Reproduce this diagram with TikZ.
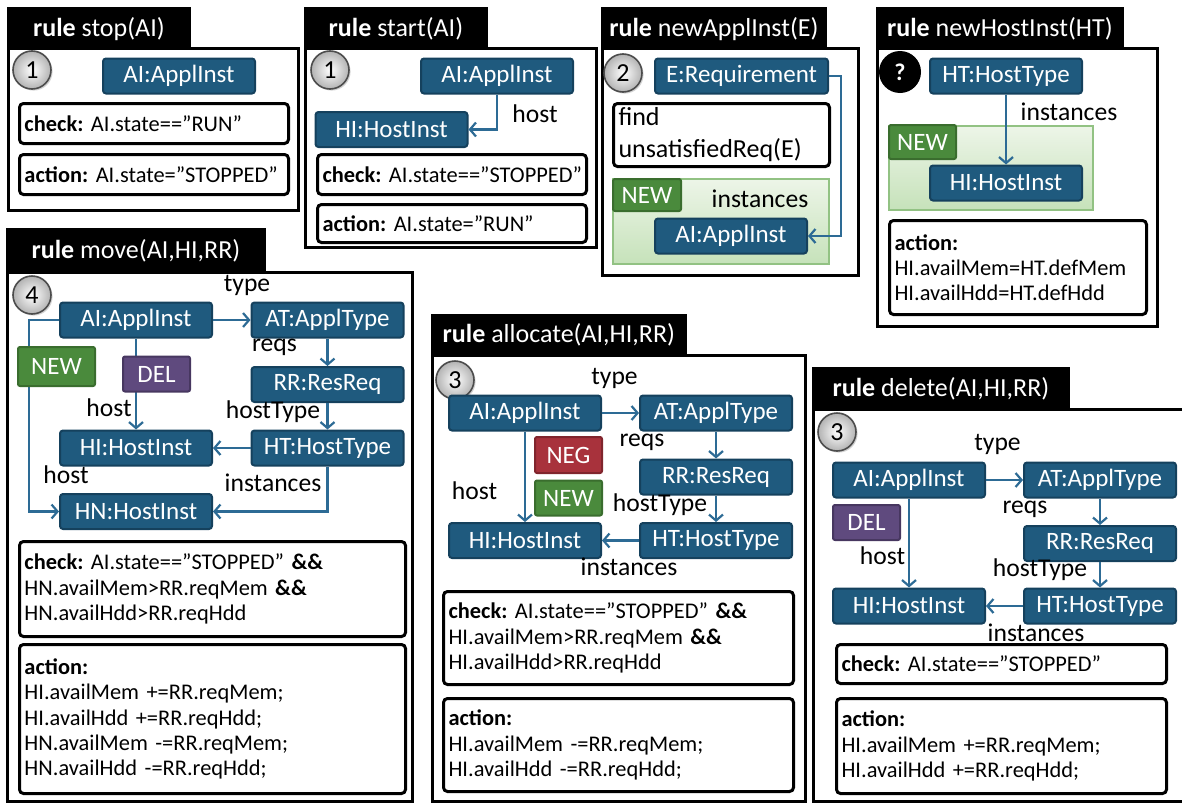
\documentclass[tikz,border=0pt]{standalone}
\usepackage{fontspec}
\setmainfont{Carlito}
\usetikzlibrary{arrows.meta,shadows}

\definecolor{objfill}{HTML}{1F5A7E}
\definecolor{objdraw}{HTML}{15415D}
\definecolor{linkcol}{HTML}{2D6B95}
\definecolor{newfill}{HTML}{4A8A3C}
\definecolor{newdraw}{HTML}{3A6D2E}
\definecolor{delfill}{HTML}{5F4A7E}
\definecolor{deldraw}{HTML}{473760}
\definecolor{negfill}{HTML}{A8323C}
\definecolor{negdraw}{HTML}{80252D}
\definecolor{areatop}{HTML}{EDF5E8}
\definecolor{areabot}{HTML}{C6E2BA}
\definecolor{areadraw}{HTML}{92C283}

\tikzset{
    ruleframe/.style={draw, line width=1.5pt},
    ruletab/.style={fill=black, text=white, anchor=north west, inner sep=0pt,
        font=\fontsize{13}{15}\selectfont},
    stepnum/.style={circle, draw=black!70, line width=0.8pt, inner color=white,
        outer color=black!30, minimum size=19pt, inner sep=0pt,
        font=\fontsize{13}{15}\selectfont,
        drop shadow={shadow xshift=0.8pt, shadow yshift=-0.8pt, opacity=0.35}},
    obj/.style={draw=objdraw, fill=objfill, text=white, line width=1pt,
        rounded corners=1.5pt, minimum width=76pt, minimum height=17.5pt,
        inner sep=0pt, font=\fontsize{12.5}{14}\selectfont},
    tagbox/.style={line width=1pt, rounded corners=1pt, text=white,
        minimum width=33.5pt, minimum height=17.5pt, inner sep=0pt,
        font=\fontsize{12.5}{14}\selectfont},
    newtag/.style={tagbox, draw=newdraw, fill=newfill},
    deltag/.style={tagbox, draw=deldraw, fill=delfill},
    negtag/.style={tagbox, draw=negdraw, fill=negfill},
    newarea/.style={draw=areadraw, top color=areatop, bottom color=areabot,
        line width=0.8pt, anchor=north west, inner sep=0pt},
    cond/.style 2 args={draw, line width=1.5pt, rounded corners=2pt, fill=white,
        anchor=north west, inner xsep=2.5pt, inner ysep=2pt, text width=#1,
        minimum height=#2, align=left, font=\fontsize{11.2}{12.6}\selectfont},
    lbl/.style={inner sep=0pt, font=\fontsize{12.8}{15}\selectfont},
    link/.style={draw=linkcol, line width=1.1pt, ->},
    >={Straight Barb[length=3pt, width=7pt]}
}

\begin{document}
\begin{tikzpicture}[x=0.5pt, y=-0.5pt]
    \useasboundingbox (0,0) rectangle (1182,803);

    %% rule stop, top left
    \draw[ruleframe] (8,48) rectangle (298,210);
    \node[ruletab, minimum width=92pt, minimum height=21.5pt] (stopTab) at (6.5,7)
        {\textbf{rule} stop(AI)};
    \node[stepnum] (stopNum) at (32,70) {1};
    \node[obj] (stopAI) at (179,76) {AI:ApplInst};
    \node[cond={129.5pt}{20pt}] (stopCheck) at (18,102)
        {\textbf{check:}~AI.state==”RUN”};
    \node[cond={129.5pt}{20pt}] (stopAction) at (18,153)
        {\textbf{action:}~AI.state=”STOPPED”};

    %% rule start
    \draw[ruleframe] (305,48) rectangle (596,247);
    \node[ruletab, minimum width=92pt, minimum height=21.5pt] (startTab) at (303.5,7)
        {\textbf{rule} start(AI)};
    \node[stepnum] (startNum) at (330,70) {1};
    \node[obj] (startAI) at (497,76) {AI:ApplInst};
    \node[obj] (startHI) at (391.5,129.5) {HI:HostInst};
    \draw[link] (startAI) |- (startHI);
    \node[lbl] (startHost) at (535,114) {host};
    \node[cond={129.5pt}{20pt}] (startCheck) at (316,153)
        {\textbf{check:}~AI.state==”STOPPED”};
    \node[cond={129.5pt}{19pt}] (startAction) at (316,203)
        {\textbf{action:}~AI.state=”RUN”};

    %% rule newApplInst
    \draw[ruleframe] (602,48) rectangle (858,275);
    \node[ruletab, minimum width=113pt, minimum height=21.5pt] (applTab) at (600.5,7)
        {\textbf{rule} newApplInst(E)};
    \node[stepnum] (applNum) at (623,73) {2};
    \node[obj, minimum width=86.5pt] (applE) at (741.5,76) {E:Requirement};
    \node[cond={103pt}{31.5pt}, font=\fontsize{13}{16}\selectfont] (applFind) at (612,102)
        {find\\unsatisfiedReq(E)};
    \node[newarea, minimum width=108pt, minimum height=42.5pt] (applArea) at (612,178) {};
    \node[newtag, anchor=north west, minimum width=34pt, minimum height=16pt] (applNew)
        at (612,178) {NEW};
    \node[lbl] (applInst) at (760,199) {instances};
    \node[obj] (applAI) at (731,236) {AI:ApplInst};
    \draw[link] (applE.east) -- ++(12,0) |- (applAI.east);

    %% rule newHostInst, top right
    \draw[ruleframe] (877,48) rectangle (1157,326);
    \node[ruletab, minimum width=124pt, minimum height=21.5pt] (hostTab) at (875.5,7)
        {\textbf{rule} newHostInst(HT)};
    \node[circle, fill=black, text=white, minimum size=21pt, inner sep=0pt,
        font=\bfseries\fontsize{12}{14}\selectfont] (hostQ) at (900,72) {?};
    \node[obj] (hostHT) at (1006,76) {HT:HostType};
    \node[newarea, minimum width=102pt, minimum height=42pt] (hostArea) at (888,125) {};
    \node[newtag, anchor=north west, minimum height=17pt] (hostNew) at (888,124) {NEW};
    \node[obj] (hostHI) at (1006,183) {HI:HostInst};
    \draw[link] (hostHT) -- (hostHI);
    \node[lbl] (hostInst) at (1069,112) {instances};
    \node[cond={123.5pt}{47pt}] (hostAction) at (888,219)
        {\textbf{action:}\\HI.availMem=HT.defMem\\HI.availHdd=HT.defHdd};

    %% rule move, bottom left
    \draw[ruleframe] (7,272) rectangle (412,801);
    \node[ruletab, minimum width=130pt, minimum height=22pt] (moveTab) at (5.5,228)
        {\textbf{rule} move(AI,HI,RR)};
    \node[stepnum] (moveNum) at (32,295) {4};
    \node[obj] (moveAI) at (136,320) {AI:ApplInst};
    \node[obj] (moveAT) at (327.5,320) {AT:ApplType};
    \node[obj] (moveRR) at (327.5,384.5) {RR:ResReq};
    \node[obj] (moveHT) at (327.5,448) {HT:HostType};
    \node[obj] (moveHI) at (136,448) {HI:HostInst};
    \node[obj] (moveHN) at (136,511.5) {HN:HostInst};
    \draw[link] (moveAI) -- (moveAT);
    \draw[link] (moveAT) -- (moveRR);
    \draw[link] (moveRR) -- (moveHT);
    \draw[link] (moveHT) -- (moveHI);
    \draw[link] (moveAI) -- (moveHI);
    \draw[link] (moveAI.west) -- ++(-30,0) |- (moveHN.west);
    \draw[link] (moveHT) |- (moveHN);
    \node[newtag, minimum width=38.5pt, minimum height=19.5pt] (moveNew) at (56.5,366.5) {NEW};
    \node[deltag] (moveDel) at (156.5,374) {DEL};
    \node[lbl] (moveType) at (247,285) {type};
    \node[lbl] (moveReqs) at (274.5,347) {reqs};
    \node[lbl] (moveHostType) at (273,412) {hostType};
    \node[lbl] (moveHost) at (109,408) {host};
    \node[lbl] (moveHostN) at (66,475) {host};
    \node[lbl] (moveInst) at (273,483) {instances};
    \node[cond={188pt}{47.5pt}] (moveCheck) at (18,540)
        {\textbf{check:}~AI.state==”STOPPED”~\textbf{\&\&}\\
         HN.availMem>RR.reqMem~\textbf{\&\&}\\HN.availHdd>RR.reqHdd};
    \node[cond={188pt}{74.5pt}] (moveAction) at (18,643)
        {\textbf{action:}\\HI.availMem~+=RR.reqMem;\\HI.availHdd~+=RR.reqHdd;\\
         HN.availMem~-=RR.reqMem;\\HN.availHdd~-=RR.reqHdd;\par\vspace{10pt}};

    %% rule allocate, bottom middle
    \draw[ruleframe] (432,355) rectangle (805,801);
    \node[ruletab, minimum width=128pt, minimum height=20.5pt] (allocTab) at (430.5,314)
        {\textbf{rule} allocate(AI,HI,RR)};
    \node[stepnum] (allocNum) at (455,380) {3};
    \node[obj] (allocAI) at (525,413) {AI:ApplInst};
    \node[obj] (allocAT) at (716,413) {AT:ApplType};
    \node[obj] (allocRR) at (716,477) {RR:ResReq};
    \node[obj] (allocHI) at (525,540.5) {HI:HostInst};
    \node[obj] (allocHT) at (716,540.5) {HT:HostType};
    \draw[link] (allocAI) -- (allocAT);
    \draw[link] (allocAT) -- (allocRR);
    \draw[link] (allocRR) -- (allocHT);
    \draw[link] (allocHT) -- (allocHI);
    \draw[link] (allocAI) -- (allocHI);
    \node[negtag, minimum height=18pt] (allocNeg) at (568.5,455) {NEG};
    \node[newtag] (allocNew) at (568.5,498) {NEW};
    \node[lbl] (allocType) at (614.5,378) {type};
    \node[lbl] (allocReqs) at (642,442) {reqs};
    \node[lbl] (allocHost) at (474.5,491) {host};
    \node[lbl] (allocHostType) at (660,505) {hostType};
    \node[lbl] (allocInst) at (629,567) {instances};
    \node[cond={170pt}{46.5pt}] (allocCheck) at (442,590)
        {\textbf{check:}~AI.state==”STOPPED”~\textbf{\&\&}\\
         HI.availMem>RR.reqMem~\textbf{\&\&}\\HI.availHdd>RR.reqHdd};
    \node[cond={170pt}{46.5pt}] (allocAction) at (442,697)
        {\textbf{action:}\\HI.availMem~-=RR.reqMem;\\HI.availHdd~-=RR.reqHdd;};

    %% rule delete, bottom right
    \draw[ruleframe] (1190,409) -- (813,409) -- (813,801) -- (1190,801);
    \node[ruletab, minimum width=129pt, minimum height=21pt] (delTab) at (811.5,367)
        {\textbf{rule} delete(AI,HI,RR)};
    \node[stepnum] (delNum) at (837,432) {3};
    \node[obj] (delAI) at (909,480) {AI:ApplInst};
    \node[obj] (delAT) at (1100,480) {AT:ApplType};
    \node[obj] (delRR) at (1100,543.5) {RR:ResReq};
    \node[obj] (delHI) at (909,606) {HI:HostInst};
    \node[obj] (delHT) at (1100,606) {HT:HostType};
    \draw[link] (delAI) -- (delAT);
    \draw[link] (delAT) -- (delRR);
    \draw[link] (delRR) -- (delHT);
    \draw[link] (delHT) -- (delHI);
    \draw[link] (delAI) -- (delHI);
    \node[deltag] (delDel) at (866.5,522.5) {DEL};
    \node[lbl] (delType) at (997.5,444) {type};
    \node[lbl] (delReqs) at (1025,509) {reqs};
    \node[lbl] (delHost) at (882.5,556) {host};
    \node[lbl] (delHostType) at (1040,570) {hostType};
    \node[lbl] (delInst) at (1036,633) {instances};
    \node[cond={160pt}{19.5pt}] (delCheck) at (835,643)
        {\textbf{check:}~AI.state==”STOPPED”};
    \node[cond={160pt}{47.5pt}] (delAction) at (835,697)
        {\textbf{action:}\\HI.availMem~+=RR.reqMem;\\HI.availHdd~+=RR.reqHdd;};
\end{tikzpicture}
\end{document}
